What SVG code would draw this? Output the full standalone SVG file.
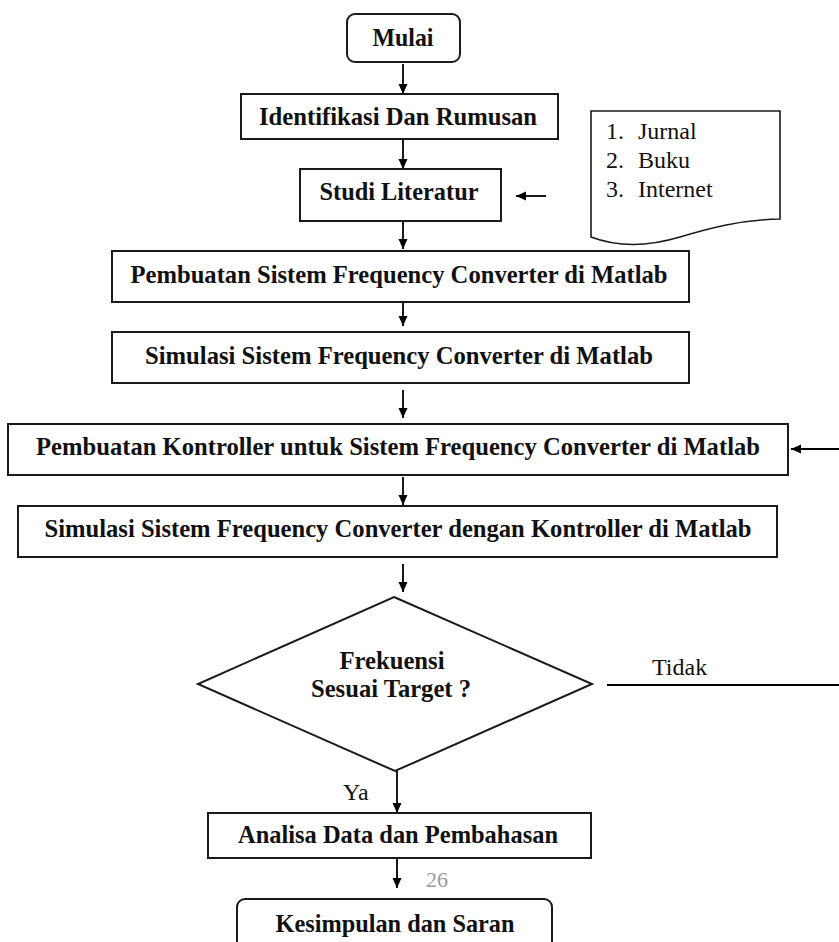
<svg xmlns="http://www.w3.org/2000/svg" width="839" height="942" viewBox="0 0 839 942">
<defs>
<marker id="ah" viewBox="0 0 10 10" markerUnits="userSpaceOnUse" markerWidth="10" markerHeight="10" refX="10" refY="5" orient="auto">
<path d="M0,0.5 L10,5 L0,9.5 z" fill="#000"/>
</marker>
<style>
.box{fill:#fff;stroke:#1a1a1a;stroke-width:2}
.doc{fill:#fff;stroke:#1a1a1a;stroke-width:1.6}
.t{font-family:"Liberation Serif","Times New Roman",serif;font-size:25.5px;font-weight:bold;fill:#111;text-anchor:middle}
.n{font-family:"Liberation Serif","Times New Roman",serif;font-size:24px;fill:#111}
.pg{font-family:"Liberation Serif","Times New Roman",serif;font-size:22px;fill:#999}
.c{fill:none;stroke:#000;stroke-width:1.8}
</style>
</defs>
<rect width="839" height="942" fill="#fff"/>
<g id="connectors">
<line class="c" x1="403" y1="64" x2="403" y2="94" marker-end="url(#ah)"/>
<line class="c" x1="403" y1="140" x2="403" y2="169" marker-end="url(#ah)"/>
<line class="c" x1="546" y1="196" x2="516" y2="196" marker-end="url(#ah)"/>
<line class="c" x1="403" y1="222" x2="403" y2="249" marker-end="url(#ah)"/>
<line class="c" x1="403" y1="303" x2="403" y2="326" marker-end="url(#ah)"/>
<line class="c" x1="403" y1="390" x2="403" y2="418" marker-end="url(#ah)"/>
<line class="c" x1="839" y1="449" x2="791" y2="449" marker-end="url(#ah)"/>
<line class="c" x1="403" y1="477" x2="403" y2="505" marker-end="url(#ah)"/>
<line class="c" x1="403" y1="564" x2="403" y2="592" marker-end="url(#ah)"/>
<line class="c" x1="607" y1="685" x2="839" y2="685"/>
<line class="c" x1="397" y1="771" x2="397" y2="813" marker-end="url(#ah)"/>
<line class="c" x1="397" y1="859" x2="397" y2="888" marker-end="url(#ah)"/>
<text class="n" x="652" y="675">Tidak</text>
<text class="n" x="343" y="800">Ya</text>
</g>
<g id="mulai">
<rect class="box" x="347" y="14" width="113" height="48" rx="8"/>
<text class="t" x="403" y="46" textLength="61" lengthAdjust="spacingAndGlyphs">Mulai</text>
</g>
<g id="identifikasi">
<rect class="box" x="241" y="94" width="317" height="45"/>
<text class="t" x="398" y="125" textLength="278" lengthAdjust="spacingAndGlyphs">Identifikasi Dan Rumusan</text>
</g>
<g id="studi">
<rect class="box" x="300" y="169" width="201" height="52"/>
<text class="t" x="399" y="200" textLength="159" lengthAdjust="spacingAndGlyphs">Studi Literatur</text>
</g>
<g id="referensi">
<path class="doc" d="M591,111 H780 V219 C740,220 710,228 680,237 C650,246 620,248 591,237 Z"/>
<text class="n" x="606" y="139">1.</text><text class="n" x="638" y="139">Jurnal</text>
<text class="n" x="606" y="168">2.</text><text class="n" x="638" y="168">Buku</text>
<text class="n" x="606" y="197">3.</text><text class="n" x="638" y="197">Internet</text>
</g>
<g id="pembuatan">
<rect class="box" x="112" y="251" width="577" height="51"/>
<text class="t" x="399" y="283" textLength="537" lengthAdjust="spacingAndGlyphs">Pembuatan Sistem Frequency Converter di Matlab</text>
</g>
<g id="simulasi">
<rect class="box" x="112" y="332" width="577" height="51"/>
<text class="t" x="399" y="364" textLength="508" lengthAdjust="spacingAndGlyphs">Simulasi Sistem Frequency Converter di Matlab</text>
</g>
<g id="kontroller">
<rect class="box" x="8" y="424" width="780" height="51"/>
<text class="t" x="398" y="455" textLength="724" lengthAdjust="spacingAndGlyphs">Pembuatan Kontroller untuk Sistem Frequency Converter di Matlab</text>
</g>
<g id="simulasi-kontroller">
<rect class="box" x="18" y="506" width="759" height="51"/>
<text class="t" x="398" y="537" textLength="707" lengthAdjust="spacingAndGlyphs">Simulasi Sistem Frequency Converter dengan Kontroller di Matlab</text>
</g>
<g id="keputusan">
<polygon class="box" points="394,597 592,684 395,771 198,684"/>
<text class="t" x="392" y="669" textLength="105" lengthAdjust="spacingAndGlyphs">Frekuensi</text>
<text class="t" x="391" y="697" textLength="160" lengthAdjust="spacingAndGlyphs">Sesuai Target ?</text>
</g>
<g id="analisa">
<rect class="box" x="208" y="813" width="383" height="45"/>
<text class="t" x="398" y="843" textLength="320" lengthAdjust="spacingAndGlyphs">Analisa Data dan Pembahasan</text>
</g>
<text class="pg" x="426" y="887">26</text>
<g id="kesimpulan">
<rect class="box" x="237" y="899" width="315" height="70" rx="8"/>
<text class="t" x="395" y="932" textLength="239" lengthAdjust="spacingAndGlyphs">Kesimpulan dan Saran</text>
</g>
</svg>
